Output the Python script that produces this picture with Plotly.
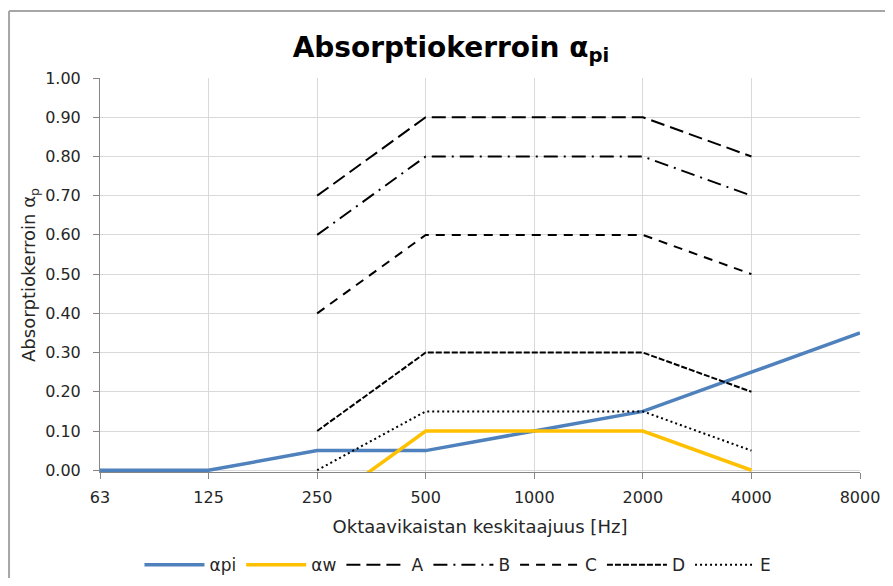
import plotly.graph_objects as go

freqs = ["63", "125", "250", "500", "1000", "2000", "4000", "8000"]
alpha_pi = [0.00, 0.00, 0.05, 0.05, 0.10, 0.15, 0.25, 0.35]
alpha_w = [None, None, -0.10, 0.10, 0.10, 0.10, 0.00, None]
class_A = [None, None, 0.70, 0.90, 0.90, 0.90, 0.80, None]
class_B = [None, None, 0.60, 0.80, 0.80, 0.80, 0.70, None]
class_C = [None, None, 0.40, 0.60, 0.60, 0.60, 0.50, None]
class_D = [None, None, 0.10, 0.30, 0.30, 0.30, 0.20, None]
class_E = [None, None, 0.00, 0.15, 0.15, 0.15, 0.05, None]
y_ticks = [0.0, 0.1, 0.2, 0.3, 0.4, 0.5, 0.6, 0.7, 0.8, 0.9, 1.0]

FONT = "'DejaVu Sans', sans-serif"
TXT = "#262626"

fig = go.Figure()
fig.add_trace(go.Scatter(x=freqs, y=alpha_pi, name="αpi", mode="lines",
                         line=dict(color="#4F81BD", width=3.5)))
fig.add_trace(go.Scatter(x=freqs, y=alpha_w, name="αw", mode="lines",
                         line=dict(color="#FFC000", width=3.5)))
styles = [("A", class_A, "14px,6px"),
          ("B", class_B, "14px,6px,2px,6px"),
          ("C", class_C, "9px,7px"),
          ("D", class_D, "6px,2px"),
          ("E", class_E, "2px,3px")]
for name, vals, dash in styles:
    fig.add_trace(go.Scatter(x=freqs, y=vals, name=name, mode="lines",
                             line=dict(color="black", width=2, dash=dash)))

fig.update_layout(
    width=877, height=570,
    margin=dict(l=92, r=25, t=70, b=106, autoexpand=False),
    paper_bgcolor="white", plot_bgcolor="white",
    font=dict(family=FONT, color=TXT, size=15),
    title=dict(text="<b>Absorptiokerroin α<sub>pi</sub></b>", x=0.5051, xanchor="center",
               y=0.932, yanchor="middle", font=dict(size=28, color="black", family=FONT)),
    showlegend=True,
    legend=dict(orientation="h", x=0.471, xanchor="center", y=-0.2367, yanchor="middle",
                font=dict(size=17, color=TXT), itemwidth=60, traceorder="normal"),
    xaxis=dict(type="category", range=[0, 7], showgrid=True, gridcolor="#D9D9D9",
               gridwidth=1, showline=True, linecolor="#868686", linewidth=1,
               ticks="outside", ticklen=6, tickcolor="#868686", automargin=False,
               ticklabelstandoff=5,
               tickfont=dict(size=16, color=TXT),
               title=dict(text="Oktaavikaistan keskitaajuus [Hz]", standoff=14,
                          font=dict(size=18, color=TXT))),
    yaxis=dict(range=[-0.0045, 1.0], tickvals=y_ticks, tickformat=".2f",
               showgrid=True, gridcolor="#D9D9D9", gridwidth=1, zeroline=False,
               showline=True, linecolor="#868686", linewidth=1, automargin=False,
               ticks="outside", ticklen=6, tickcolor="#868686",
               ticklabelstandoff=9,
               tickfont=dict(size=16, color=TXT),
               title=dict(text="Absorptiokerroin α<sub>p</sub>", standoff=4,
                          font=dict(size=18, color=TXT))),
)

# chart-area border (top and left edges visible in the reference)
fig.add_shape(type="line", xref="paper", yref="paper",
              x0=-0.1197, x1=1.2, y0=1.170, y1=1.170,
              line=dict(color="#A6A6A6", width=2), layer="below")
fig.add_shape(type="line", xref="paper", yref="paper",
              x0=-0.1197, x1=-0.1197, y0=-0.5, y1=1.170,
              line=dict(color="#A6A6A6", width=2), layer="below")

fig.write_html("out.html")
